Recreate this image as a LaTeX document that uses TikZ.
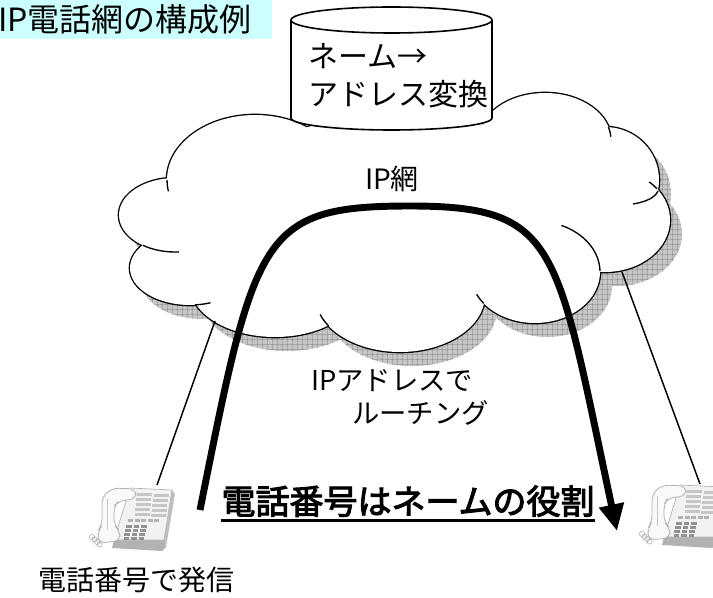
\documentclass[tikz,border=0pt]{standalone}
\usepackage{fontspec}
\setmainfont{Noto Sans CJK JP}
\newfontfamily\emphfont{Noto Sans CJK JP}[FakeBold=3]
\usetikzlibrary{arrows.meta, patterns.meta}
\definecolor{titlecyan}{HTML}{CCFFFF}
\definecolor{shadowgray}{HTML}{C6C6C6}

\newcommand{\cloudblobs}{%
  (255,180) ellipse [x radius=88, y radius=65]
  (175,215) ellipse [x radius=56, y radius=37]
  (190,268) ellipse [x radius=60, y radius=37]
  (275,285) ellipse [x radius=85, y radius=52]
  (400,295) ellipse [x radius=85, y radius=57]
  (535,272) ellipse [x radius=65, y radius=51]
  (605,220) ellipse [x radius=65, y radius=52]
  (605,180) ellipse [x radius=54, y radius=53]
  (545,140) ellipse [x radius=66, y radius=47]
  (400,200) ellipse [x radius=180, y radius=85]
  (410,222) ellipse [x radius=200, y radius=85]}

\tikzset{
  deskphone/.pic={
    % body
    \fill[gray!50] (82,5) -- (85,9) -- (76,62) -- (74,55) -- cycle;
    \fill[gray!60] (24,55) -- (74,55) -- (76,62) -- (72,66) -- (22,63) -- cycle;
    \filldraw[fill=gray!10, draw=gray!60, line width=0.5pt] (40,3) -- (82,5) -- (74,55) -- (24,55) -- cycle;
    \foreach \r in {0,...,4} {
      \fill[gray!45] (47-0.6*\r,8+5*\r) rectangle ++(15,3);
      \fill[gray!45] (64-0.8*\r,8.5+5*\r) rectangle ++(15,3);
    }
    \foreach \c in {0,...,4} \fill[gray!60] (38+6.5*\c,34) rectangle ++(5,2.5);
    \foreach \r in {0,...,3} \foreach \c in {0,1,2} \fill[gray!85] (36+7.5*\c-0.8*\r,40+4*\r) rectangle ++(5.5,2.8);
    % handset and cord
    \filldraw[fill=gray!5, draw=gray!60, line width=0.6pt, rounded corners=5] (22,3) -- (46,4) -- (46,14) -- (28,16) -- (24,22) -- (24,40) -- (30,46) -- (30,56) -- (8,58) -- (8,46) -- (12,40) -- (12,12) -- cycle;
    \draw[gray!45, line width=0.5pt] (17,14) -- (17,44);
    \foreach \k in {0,...,3} \draw[gray!60, line width=0.5pt] (2+2.5*\k,52+2.5*\k) circle[radius=2.6];
  }
}

\begin{document}
\begin{tikzpicture}[x=0.75pt, y=-0.75pt,
    lbl/.style={inner sep=0pt},
    titlebox/.style={anchor=west, fill=titlecyan, inner sep=0pt, minimum height=29.25pt, text width=205pt, align=left, font=\fontsize{24}{28}\selectfont},
    curl/.style={line width=1pt},
    dbline/.style={line width=1.2pt},
    wire/.style={line width=1.1pt},
    route/.style={line width=5.2pt, -{Triangle[length=20pt, width=18pt]}}]
    \useasboundingbox (0,0) rectangle (713,598);

    \node[titlebox] (title) at (-2,19.5) {IP電話網の構成例};

    % cloud with its shadow
    \fill[shadowgray, shift={(12,14)}] \cloudblobs;
    \fill[pattern={Hatch[angle=0, distance=4pt, line width=0.4pt]}, pattern color=gray!85, shift={(12,14)}] \cloudblobs;
    \draw[line width=2pt] \cloudblobs;
    \fill[white] \cloudblobs;
    \foreach \cx/\cy/\rx/\ry/\a/\b in {255/180/88/65/180/170, 175/215/56/37/125/86, 190/268/60/37/85/70,
        400/295/85/57/147/160, 535/272/65/51/142/154, 535/272/65/51/-1/-66, 605/220/65/52/-37/-47, 545/140/66/47/-16/-4}
      \draw[curl] (\cx,\cy) ++(\a:{\rx} and {\ry}) arc[start angle=\a, end angle=\b, x radius=\rx, y radius=\ry];
    \draw[curl] (658,191) .. controls (655,198) and (645,202) .. (633,204);

    % name server
    \draw[dbline, fill=white] (291,20) -- (291,118) arc[start angle=180, end angle=0, x radius=100.5, y radius=12]
      -- (492,20) arc[start angle=0, end angle=-180, x radius=100.5, y radius=13] -- cycle;
    \draw[dbline] (291,20) arc[start angle=180, end angle=0, x radius=100.5, y radius=13];
    \node[lbl, align=left, font=\fontsize{22.5}{28.5}\selectfont] (dbtext) at (398,76) {ネーム→\\アドレス変換};

    \node[lbl, font=\fontsize{21}{25}\selectfont] (net) at (392,179) {IP網};
    \node[lbl, align=left, font=\fontsize{20.5}{24.75}\selectfont] (routing) at (400,397) {IPアドレスで\\\hspace*{1.5em}ルーチング};

    % telephones
    \pic (lphone) at (90,485) {deskphone};
    \pic (rphone) at (640,482) {deskphone};

    \coordinate (lcloud) at (215,321);
    \coordinate (lset) at (157,485);
    \coordinate (rcloud) at (622,272);
    \coordinate (rset) at (700,484);
    \draw[wire] (lcloud) -- (lset);
    \draw[wire] (rcloud) -- (rset);

    \coordinate (callstart) at (200,510);
    \coordinate (callend) at (617,531);
    \draw[route] (callstart) .. controls (255,235) and (260,206) .. (410,206)
      .. controls (560,206) and (556,246) .. (callend);

    \node[lbl, anchor=base, font=\emphfont\fontsize{25.5}{30}\selectfont] (role) at (408,514) {電話番号はネームの役割};
    \draw[line width=2.2pt] ([yshift=-5pt]role.base west) -- ([yshift=-5pt]role.base east);
    \node[lbl, font=\fontsize{21}{25}\selectfont] (caller) at (136,580) {電話番号で発信};
\end{tikzpicture}
\end{document}
